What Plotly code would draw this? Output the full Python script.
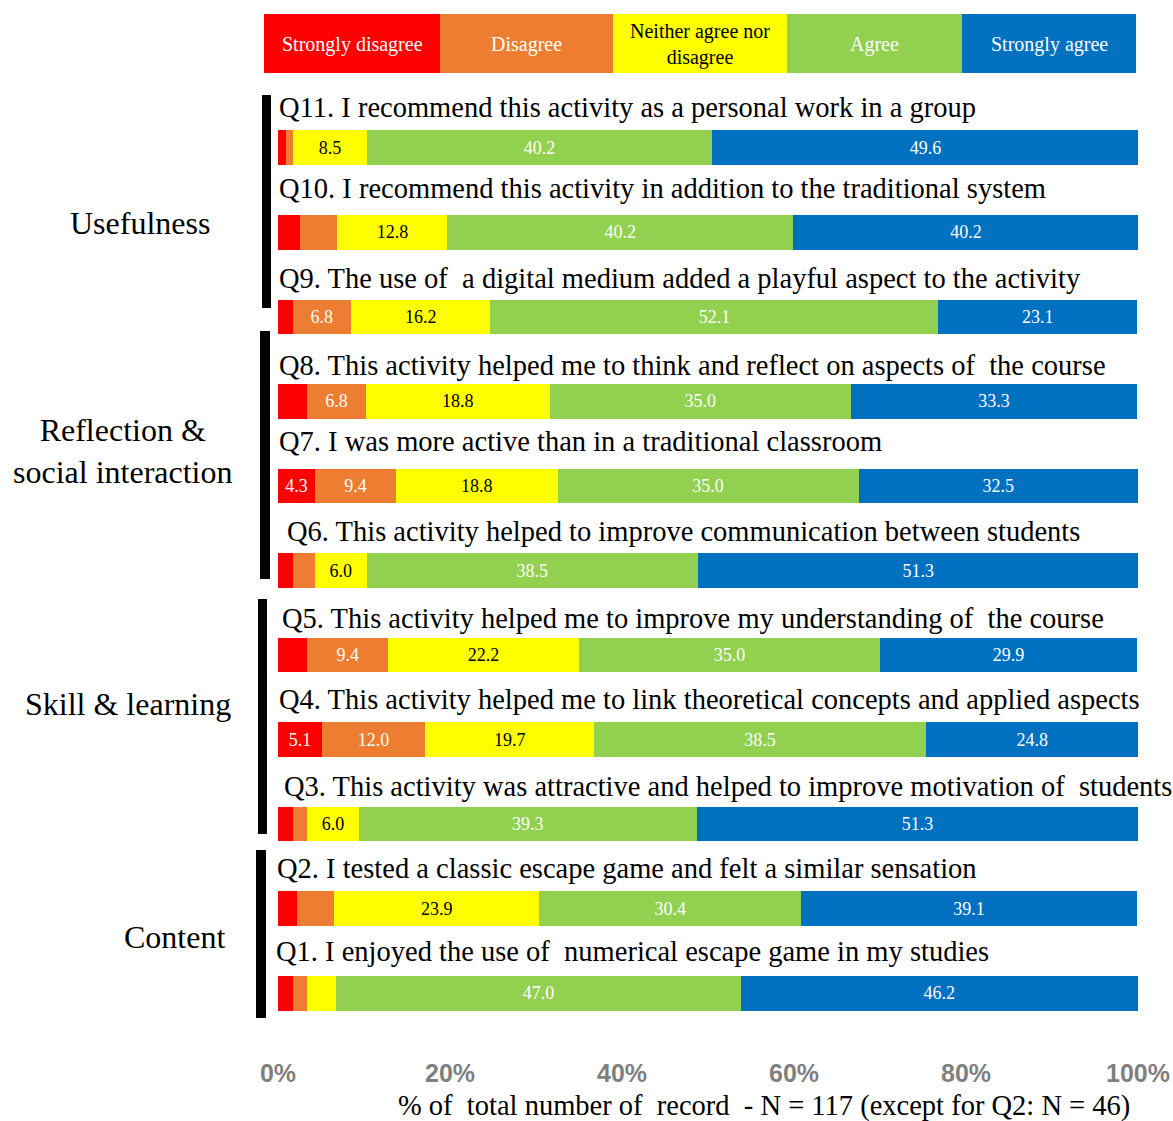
import plotly.graph_objects as go

# ---------------- data ----------------
questions = ["Q1", "Q2", "Q3", "Q4", "Q5", "Q6", "Q7", "Q8", "Q9", "Q10", "Q11"]
question_texts = [
    "Q1. I enjoyed the use of  numerical escape game in my studies",
    "Q2. I tested a classic escape game and felt a similar sensation",
    "Q3. This activity was attractive and helped to improve motivation of  students",
    "Q4. This activity helped me to link theoretical concepts and applied aspects",
    "Q5. This activity helped me to improve my understanding of  the course",
    "Q6. This activity helped to improve communication between students",
    "Q7. I was more active than in a traditional classroom",
    "Q8. This activity helped me to think and reflect on aspects of  the course",
    "Q9. The use of  a digital medium added a playful aspect to the activity",
    "Q10. I recommend this activity in addition to the traditional system",
    "Q11. I recommend this activity as a personal work in a group",
]
categories = ["Strongly disagree", "Disagree", "Neither agree nor disagree", "Agree", "Strongly agree"]
legend_labels = ["Strongly disagree", "Disagree", "Neither agree nor<br>disagree", "Agree", "Strongly agree"]

strongly_disagree = [1.7, 2.2, 1.7, 5.1, 3.4, 1.7, 4.3, 3.4, 1.7, 2.6, 0.9]
disagree          = [1.7, 4.3, 1.7, 12.0, 9.4, 2.6, 9.4, 6.8, 6.8, 4.3, 0.9]
neither           = [3.4, 23.9, 6.0, 19.7, 22.2, 6.0, 18.8, 21.4, 16.2, 12.8, 8.5]
agree             = [47.0, 30.4, 39.3, 38.5, 35.0, 38.5, 35.0, 35.0, 52.1, 40.2, 40.2]
strongly_agree    = [46.2, 39.1, 51.3, 24.8, 29.9, 51.3, 32.5, 33.3, 23.1, 40.2, 49.6]

# printed labels (as shown on the chart)
sd_text = ["", "", "", "5.1", "", "", "4.3", "", "", "", ""]
d_text  = ["", "", "", "12.0", "9.4", "", "9.4", "6.8", "6.8", "", ""]
n_text  = ["", "23.9", "6.0", "19.7", "22.2", "6.0", "18.8", "18.8", "16.2", "12.8", "8.5"]
a_text  = ["47.0", "30.4", "39.3", "38.5", "35.0", "38.5", "35.0", "35.0", "52.1", "40.2", "40.2"]
sa_text = ["46.2", "39.1", "51.3", "24.8", "29.9", "51.3", "32.5", "33.3", "23.1", "40.2", "49.6"]

groups = ["Content", "Skill & learning", "Reflection &<br>social interaction", "Usefulness"]

tick_vals = [0, 20, 40, 60, 80, 100]
tick_text = ["0%", "20%", "40%", "60%", "80%", "100%"]
x_title = "% of  total number of  record  - N = 117 (except for Q2: N = 46)"

# ---------------- styles / layout ----------------
colors = ["#FF0000", "#ED7D31", "#FFFF00", "#92D050", "#0070C0"]
text_colors = ["white", "white", "black", "white", "white"]
SERIF = "Liberation Serif"

# per-question text offsets (pixels) above each bar, Q1..Q11
q_yshift = [42, 40, 38, 40, 37, 39, 44.5, 36, 38.5, 44, 40]
q_xshift = [-4, -3, 4, -1, 2, 7, -1, -1, -1, -1, -1]

W, H = 1173, 1121
L, R, T, B = 278, 1138, 97, 1044   # plot area in page pixels


def px_x(p):
    return (p - L) / (R - L)


def px_y(p):
    return (B - p) / (B - T)


fig = go.Figure()
series = [strongly_disagree, disagree, neither, agree, strongly_agree]
texts = [sd_text, d_text, n_text, a_text, sa_text]
for name, vals, txt, col, tcol in zip(categories, series, texts, colors, text_colors):
    fig.add_trace(go.Bar(
        y=questions, x=vals, name=name, orientation="h",
        marker=dict(color=col, line=dict(width=0)),
        text=txt, textposition="inside", insidetextanchor="middle",
        textfont=dict(family=SERIF, size=18, color=tcol),
        width=0.41, showlegend=False, hoverinfo="x+name",
    ))

annotations = []
# question texts above bars
for q, qt, ys, xs in zip(questions, question_texts, q_yshift, q_xshift):
    annotations.append(dict(
        x=0, y=q, xref="x", yref="y", text=qt, showarrow=False,
        xanchor="left", yanchor="middle", yshift=ys, xshift=xs,
        font=dict(family=SERIF, size=28.5, color="black"),
    ))

# legend bar at top
legend_edges = [264, 440, 613, 787, 962, 1136]
shapes = []
for i, (lab, col, tcol) in enumerate(zip(legend_labels, colors, text_colors)):
    x0, x1 = legend_edges[i], legend_edges[i + 1]
    shapes.append(dict(type="rect", xref="paper", yref="paper",
                       x0=px_x(x0), x1=px_x(x1), y0=px_y(73), y1=px_y(14),
                       fillcolor=col, line=dict(width=0), layer="above"))
    annotations.append(dict(
        x=px_x((x0 + x1) / 2), y=px_y(44), xref="paper", yref="paper",
        text=lab, showarrow=False, xanchor="center", yanchor="middle",
        font=dict(family=SERIF, size=20, color=tcol),
    ))

# group bars and labels
group_bars = [(256, 266, 850, 1018), (258, 267, 599, 834), (260, 270, 331, 579), (262, 271, 95, 308)]
group_label_pos = [(174, 937), (128, 704), (122, 451), (140, 223)]
for g, (bx0, bx1, by0, by1), (gx, gy) in zip(groups, group_bars, group_label_pos):
    shapes.append(dict(type="rect", xref="paper", yref="paper",
                       x0=px_x(bx0), x1=px_x(bx1), y0=px_y(by1), y1=px_y(by0),
                       fillcolor="black", line=dict(width=0)))
    annotations.append(dict(
        x=px_x(gx), y=px_y(gy), xref="paper", yref="paper", text=g,
        showarrow=False, xanchor="center", yanchor="middle",
        font=dict(family=SERIF, size=32, color="black"),
    ))

# x axis title
annotations.append(dict(
    x=px_x(764), y=px_y(1106), xref="paper", yref="paper", text=x_title,
    showarrow=False, xanchor="center", yanchor="middle",
    font=dict(family=SERIF, size=28.5, color="black"),
))

fig.update_layout(
    autosize=False,
    barmode="stack",
    width=W, height=H,
    margin=dict(l=L, r=W - R, t=T, b=H - B, pad=0, autoexpand=False),
    plot_bgcolor="white", paper_bgcolor="white",
    uniformtext=dict(minsize=18, mode="show"),
    xaxis=dict(range=[0, 100], tickvals=tick_vals, ticktext=tick_text, automargin=False,
               showgrid=False, zeroline=False, showline=False, ticks="",
               ticklabelstandoff=12,
               tickfont=dict(family="Liberation Sans", size=25, color="#7F7F7F", weight="bold")),
    yaxis=dict(categoryorder="array", categoryarray=questions, range=[-0.6, 10.6], automargin=False,
               showticklabels=False, showgrid=False, zeroline=False, showline=False, ticks=""),
    annotations=annotations,
    shapes=shapes,
)

fig.write_html(
    "out.html",
    config={"responsive": False, "displayModeBar": False},
    post_script="document.body.style.margin='0';document.body.style.overflow='hidden';",
)
